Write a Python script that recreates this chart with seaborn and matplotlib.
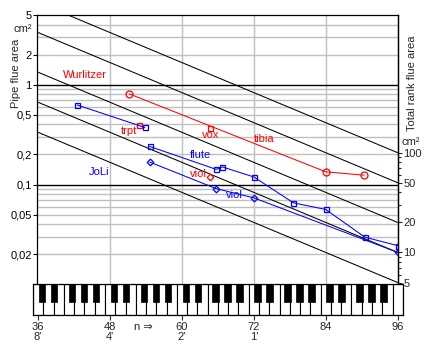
import numpy as np
import matplotlib
matplotlib.use('Agg')
import matplotlib.pyplot as plt
import seaborn as sns
from matplotlib.patches import Rectangle
from matplotlib.ticker import NullFormatter, NullLocator, FixedLocator

# ---------------- data ----------------
tibia_n = [51.2, 84.0, 90.4]
tibia_area = [0.81, 0.134, 0.124]
wur_trpt_n = [52.9]
wur_trpt_area = [0.397]
wur_vox_n = [64.6]
wur_vox_area = [0.365]
wur_viol_n = [64.6]
wur_viol_area = [0.119]
joli_trpt_n = [42.5, 53.8]
joli_trpt_area = [0.627, 0.373]
joli_flute_n = [54.6, 65.7, 66.75, 72.0, 78.6, 84.0, 90.5, 96.0]
joli_flute_area = [0.241, 0.142, 0.150, 0.119, 0.0655, 0.0562, 0.0297, 0.0244]
joli_viol_n = [54.6, 65.7, 72.0, 96.0]
joli_viol_area = [0.168, 0.091, 0.0735, 0.0209]

rank_totals = [5, 10, 20, 50, 100]          # total rank flue area, cm2
rank_factor = 480                           # right axis / left axis at n = 96

left_ticks = [5, 2, 1, 0.5, 0.2, 0.1, 0.05, 0.02]
left_labels = ['5', '2', '1', '0,5', '0,2', '0,1', '0,05', '0,02']
right_ticks = [5, 10, 20, 50, 100]
right_labels = ['5', '10', '20', '50', '100']
right_minor = [6, 7, 8, 9, 30, 40, 60, 70, 80, 90]
grid_minor = [2, 3, 4, 0.2, 0.3, 0.4, 0.5, 0.6, 0.7, 0.8, 0.9,
              0.02, 0.03, 0.04, 0.05, 0.06, 0.07, 0.08, 0.09]
grid_major = [1, 0.1]
grid_x = [48, 60, 72, 84]
key_ticks = [36, 48, 60, 72, 84, 96]
key_labels = ["36\n8'", "48\n4'", "60\n2'", "72\n1'", "84", "96"]

# ---------------- style ----------------
sns.set_style('white')
plt.rcParams['font.family'] = ['Liberation Sans', 'DejaVu Sans']
plt.rcParams['font.size'] = 8
FS = 8
RED = '#ff0000'
BLUE = '#0000ff'
GRAY = '#c0c0c0'
LW = 0.75

W, H = 429, 351
fig = plt.figure(figsize=(W / 100, H / 100), dpi=100)


def fr(x0, y0, x1, y1):
    return [x0 / W, 1 - y1 / H, (x1 - x0) / W, (y1 - y0) / H]


def ftext(x, y, s, **kw):
    fig.text(x / W, 1 - y / H, s, **kw)


ax = fig.add_axes(fr(37, 15, 397.7, 284.3))
ax.set_yscale('log')
ax.set_xlim(35.8, 96)
ax.set_ylim(0.01, 5)

for g in grid_x:
    ax.axvline(g, color=GRAY, lw=1, zorder=0.5)
for g in grid_minor:
    ax.axhline(g, color=GRAY, lw=1, zorder=0.5)
for g in grid_major:
    ax.axhline(g, color='black', lw=1, zorder=0.6)

# constant total-rank-area lines (area halves per octave)
n_line = np.array([35.8, 96.0])
for T in rank_totals:
    sns.lineplot(x=n_line, y=T / rank_factor * 2 ** ((96 - n_line) / 12),
                 color='black', lw=LW, ax=ax, zorder=1)


def series(n, a, color, marker, ms):
    sns.lineplot(x=n, y=a, color=color, lw=LW, marker=marker, markersize=ms,
                 markerfacecolor='none', markeredgecolor=color,
                 markeredgewidth=0.9, ax=ax, zorder=3, errorbar=None)


series(tibia_n, tibia_area, RED, 'o', 5)
series(wur_trpt_n, wur_trpt_area, RED, 's', 3.6)
series(wur_vox_n, wur_vox_area, RED, 's', 3.6)
series(wur_viol_n, wur_viol_area, RED, 'D', 3.4)
series(joli_trpt_n, joli_trpt_area, BLUE, 's', 3.6)
series(joli_flute_n, joli_flute_area, BLUE, 's', 3.6)
series(joli_viol_n, joli_viol_area, BLUE, 'D', 3.4)

ax.set_xlabel('')
ax.set_ylabel('')
ax.set_xticks([])
ax.set_yticks(left_ticks, labels=left_labels)
ax.yaxis.set_minor_locator(NullLocator())
ax.tick_params(axis='y', direction='out', length=2.6, width=0.8, pad=1.2,
               labelsize=FS, colors='black', left=True)
for s in ['left', 'top', 'right']:
    ax.spines[s].set_visible(True)
    ax.spines[s].set_color('black')
    ax.spines[s].set_linewidth(0.9)
ax.spines['bottom'].set_visible(False)

ax2 = ax.twinx()
ax2.set_yscale('log')
ax2.set_ylim(0.01 * rank_factor, 5 * rank_factor)
ax2.set_yticks(right_ticks, labels=right_labels)
ax2.yaxis.set_minor_locator(FixedLocator(right_minor))
ax2.yaxis.set_minor_formatter(NullFormatter())
ax2.tick_params(axis='y', which='major', direction='out', length=2.8, width=0.8,
                pad=1.2, labelsize=FS, right=True)
ax2.tick_params(axis='y', which='minor', direction='out', length=1.8, width=0.8,
                right=True)
for s in ['left', 'top', 'bottom']:
    ax2.spines[s].set_visible(False)
ax2.spines['right'].set_color('black')
ax2.spines['right'].set_linewidth(0.9)

# series labels
def label(xp, yp, s, c):
    ftext(xp, yp, s, color=c, fontsize=FS, ha='center', va='center')

label(84.5, 75, 'Wurlitzer', RED)
label(129, 131, 'trpt', RED)
label(211, 135.5, 'vox', RED)
label(264.5, 138.5, 'tibia', RED)
label(200.5, 155, 'flute', BLUE)
label(198, 174.5, 'viol', RED)
label(234, 195.5, 'viol', BLUE)
label(99, 172, 'JoLi', BLUE)

# axis titles
ftext(15.8, 73.8, 'Pipe flue area', rotation=90, ha='center', va='center', fontsize=FS)
ftext(22.5, 29, 'cm²', ha='center', va='center', fontsize=FS)
ftext(412, 83.3, 'Total rank flue area', rotation=90, ha='center', va='center', fontsize=FS)
ftext(411, 142, 'cm²', ha='center', va='center', fontsize=FS)

# keyboard
kb = fig.add_axes(fr(33.05, 284, 402.85, 315))
kb.set_xlim(35.143, 96.857)
kb.set_ylim(0, 1)
wk = 12 / 7
for i in range(36):
    kb.add_patch(Rectangle((35.143 + i * wk, 0), wk, 1, fc='white',
                           ec='black', lw=0.8))
for c in [36, 48, 60, 72, 84]:
    for s in [1, 3, 6, 8, 10]:
        n = c + s
        kb.add_patch(Rectangle((n - 0.35 - 0.56, 0.41), 1.12, 0.6, fc='black',
                               ec='black', lw=0.5))
kb.set_yticks([])
kb.set_xticks(key_ticks, labels=key_labels)
kb.tick_params(axis='x', direction='out', length=3.5, width=0.8, pad=1.5,
               labelsize=FS, bottom=True)
for s in kb.spines.values():
    s.set_color('black')
    s.set_linewidth(0.9)
for t in kb.get_xticklabels():
    t.set_linespacing(1.05)

ftext(143, 326.5, 'n ⇒', ha='center', va='center', fontsize=FS)

fig.savefig('out.png', dpi=100)
